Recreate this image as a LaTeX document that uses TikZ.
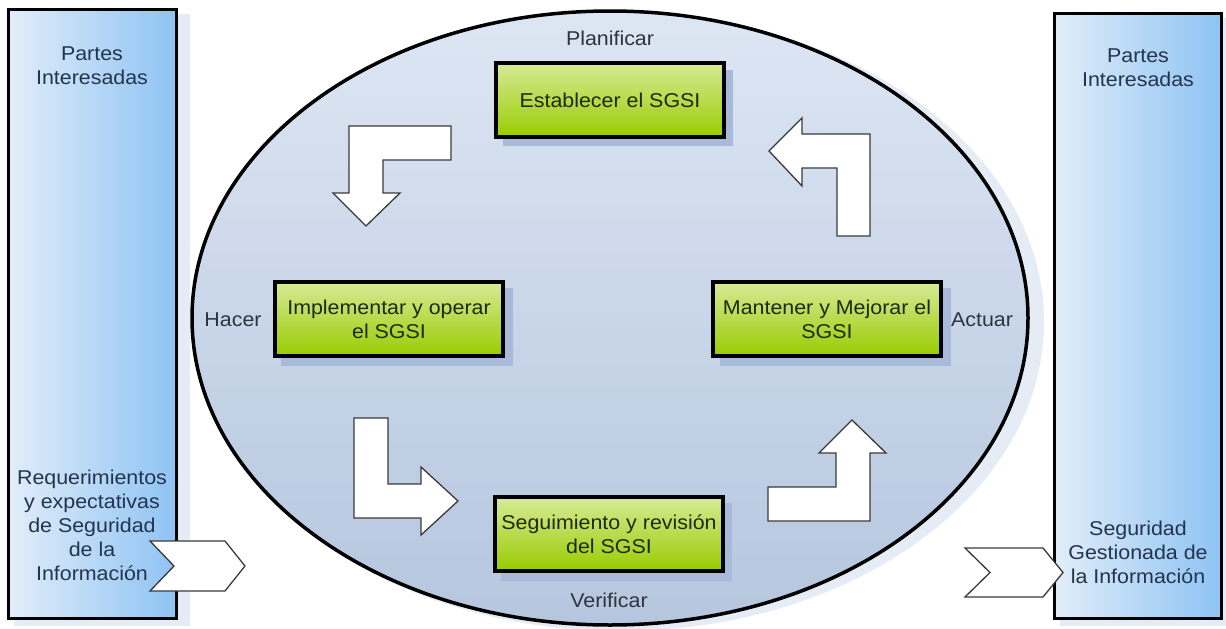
\documentclass[tikz,border=0pt]{standalone}
\usepackage{fontspec}
\setmainfont{Liberation Sans}[FakeStretch=1.07]
\usetikzlibrary{shapes.geometric}
\definecolor{labeltxt}{HTML}{2E3440}
\definecolor{sidetxt}{HTML}{23344F}
\definecolor{boxtxt}{HTML}{1E2A0E}
\definecolor{rectL}{HTML}{E2EDF9}
\definecolor{rectR}{HTML}{8EC3F3}
\definecolor{rectShadow}{HTML}{E4ECF6}
\definecolor{ellTop}{HTML}{DDE6F3}
\definecolor{ellBot}{HTML}{B5C6DE}
\definecolor{ellShadow}{HTML}{E6ECF6}
\definecolor{grnTop}{HTML}{D6EA96}
\definecolor{grnBot}{HTML}{99CC00}
\definecolor{boxShadow}{HTML}{A9B9D9}
\definecolor{arrowline}{HTML}{3A3A3A}
\tikzset{
  txt/.style={font=\fontsize{20}{24}\selectfont, text=labeltxt, align=center, inner sep=0pt},
  sidetext/.style={txt, text=sidetxt},
  siderect/.style={draw=black, line width=3pt, left color=rectL, right color=rectR, inner sep=0pt},
  greenbox/.style={draw=black, line width=3.5pt, top color=grnTop, bottom color=grnBot,
    minimum width=228pt, minimum height=74pt, inner sep=0pt, align=center,
    font=\fontsize{20}{24}\selectfont, text=boxtxt},
  blockarrow/.style={draw=arrowline, line width=1.3pt, fill=white, line join=miter},
}
\begin{document}
\begin{tikzpicture}[x=1pt,y=-1pt]
\useasboundingbox (0,0) rectangle (1226,629);
\fill[white] (0,0) rectangle (1226,629);

% side panels with soft shadow
\fill[rectShadow] (14,14) rectangle (190,626);
\fill[rectShadow] (1060,18) rectangle (1226,626);
\node[siderect, minimum width=168pt, minimum height=609pt] (lp) at (92.5,314) {};
\node[siderect, minimum width=167pt, minimum height=605pt] (rp) at (1138,316) {};

% ellipse with halo
\fill[ellShadow] (620,322) ellipse [x radius=424pt, y radius=309pt];
\draw[line width=3.5pt, top color=ellTop, bottom color=ellBot] (610,318) ellipse [x radius=418pt, y radius=307pt];

% green process boxes with shadows
\fill[boxShadow] (503,70) rectangle (733,146);
\fill[boxShadow] (281,288) rectangle (513,366);
\fill[boxShadow] (720,288) rectangle (951,366);
\fill[boxShadow] (501,503) rectangle (732,581);
\node[greenbox] (est) at (610,100) {Establecer el SGSI};
\node[greenbox] (imp) at (389,319) {Implementar y operar\\el SGSI};
\node[greenbox] (man) at (827,319) {Mantener y Mejorar el\\SGSI};
\node[greenbox] (seg) at (609,534) {Seguimiento y revisión\\del SGSI};

% phase labels
\node[txt] (plan) at (610,38) {Planificar};
\node[txt] (hacer) at (233,320) {Hacer};
\node[txt] (actuar) at (982,320) {Actuar};
\node[txt] (verif) at (609,600) {Verificar};

% side texts
\node[sidetext] (lpt) at (92,66) {Partes\\Interesadas};
\node[sidetext] (rpt) at (1138,68) {Partes\\Interesadas};
\node[sidetext] (lreq) at (92,525) {Requerimientos\\y expectativas\\de Seguridad\\de la\\Información};
\node[sidetext] (rseg) at (1138,552) {Seguridad\\Gestionada de\\la Información};

% bent block arrows
\draw[blockarrow] (349,126) -- (451,126) -- (451,160) -- (383,160) -- (383,193) -- (400,193)
  -- (366,226) -- (333,193) -- (349,193) -- cycle;
\draw[blockarrow] (870,134) -- (870,236) -- (837,236) -- (837,168) -- (802,168) -- (802,186)
  -- (769,151) -- (802,118) -- (802,134) -- cycle;
\draw[blockarrow] (354,418) -- (388,418) -- (388,484) -- (421,484) -- (421,467) -- (458,501)
  -- (421,535) -- (421,518) -- (354,518) -- cycle;
\draw[blockarrow] (768,487) -- (836,487) -- (836,453) -- (819,453) -- (852,420) -- (886,453)
  -- (870,453) -- (870,521) -- (768,521) -- cycle;

% chevrons
\draw[blockarrow] (150,541) -- (225,541) -- (245,566) -- (225,591) -- (150,591) -- (174,566) -- cycle;
\draw[blockarrow] (965,548) -- (1043,548) -- (1063,572.5) -- (1043,597) -- (965,597) -- (990,572.5) -- cycle;
\end{tikzpicture}
\end{document}
